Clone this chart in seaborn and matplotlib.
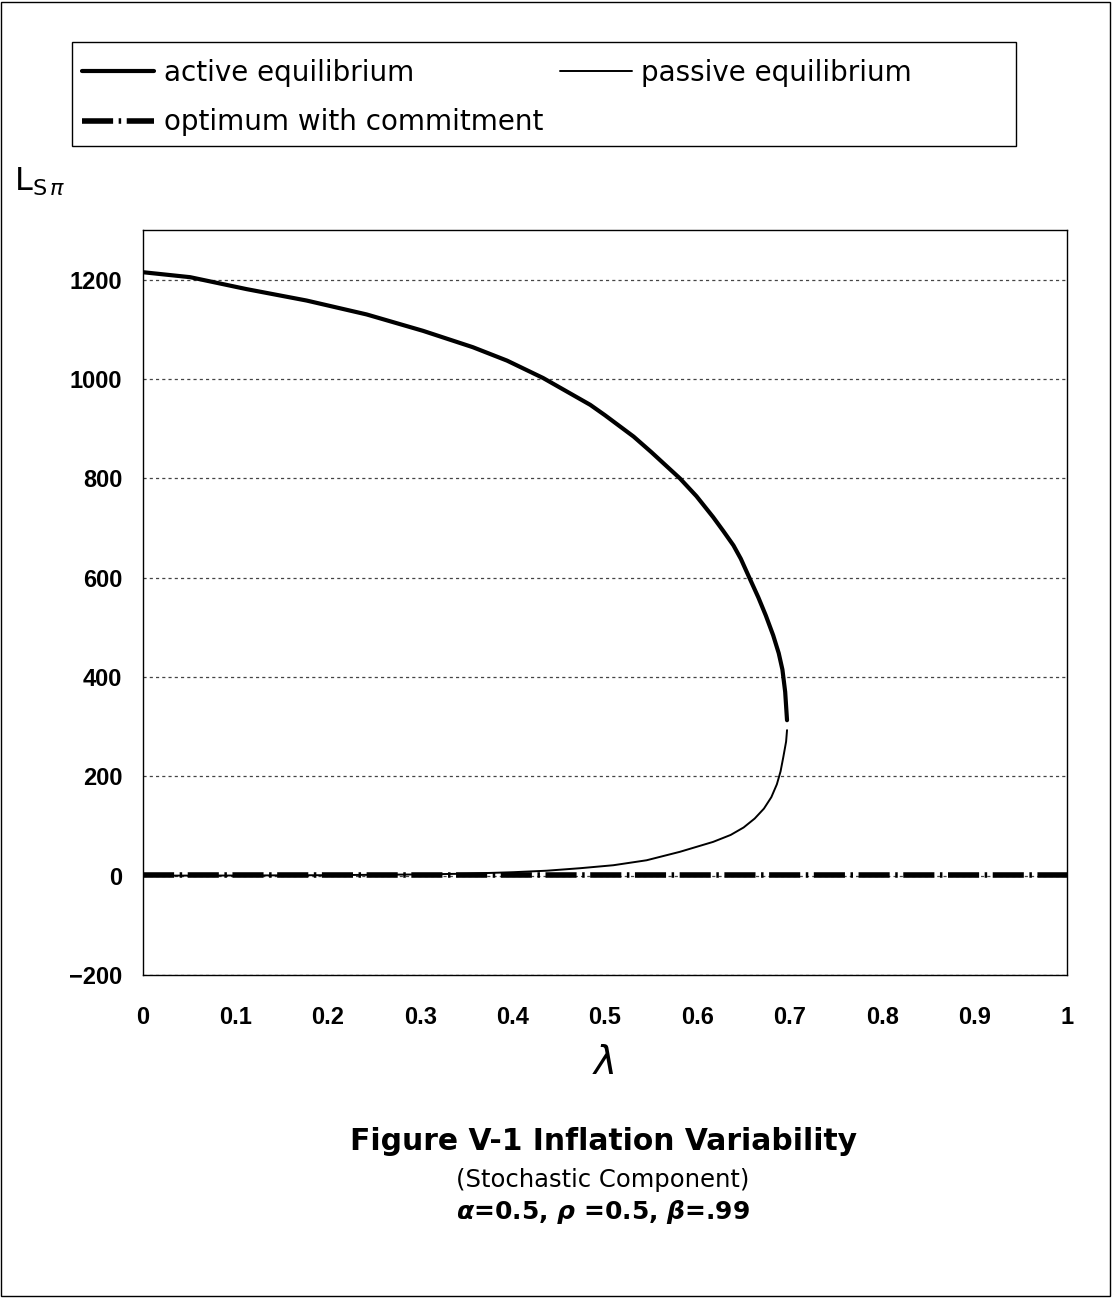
import matplotlib
matplotlib.use("Agg")
import matplotlib.pyplot as plt
import seaborn as sns
import pandas as pd
from matplotlib.patches import Rectangle

# ---- data ----
active_lambda = [0.0, 0.051, 0.112, 0.177, 0.242, 0.303, 0.357, 0.394, 0.433,
                 0.484, 0.5, 0.531, 0.55, 0.581, 0.599, 0.617, 0.628, 0.639,
                 0.647, 0.655, 0.666, 0.674, 0.682, 0.688, 0.692, 0.695, 0.697]
active_L = [1215, 1205, 1181, 1158, 1130, 1097, 1064, 1037, 1002,
            948, 927, 884, 853, 800, 764, 722, 694, 665,
            638, 605, 560, 524, 484, 448, 415, 370, 313]

passive_lambda = [0.0, 0.1, 0.2, 0.3, 0.35, 0.401, 0.437, 0.473, 0.509, 0.545,
                  0.581, 0.617, 0.636, 0.650, 0.662, 0.672, 0.680, 0.686,
                  0.690, 0.693, 0.696, 0.697]
passive_L = [0, 0.3, 1, 2.5, 4, 7, 10, 15, 21, 31,
             48, 68, 82, 97, 115, 135, 158, 184,
             210, 239, 270, 293]

commit_lambda = [0.0, 1.0]
commit_L = [2, 2]

x_ticks = [0, 0.1, 0.2, 0.3, 0.4, 0.5, 0.6, 0.7, 0.8, 0.9, 1]
x_tick_labels = ["0", "0.1", "0.2", "0.3", "0.4", "0.5", "0.6", "0.7", "0.8", "0.9", "1"]
y_ticks = [-200, 0, 200, 400, 600, 800, 1000, 1200]

labels = ["active equilibrium", "passive equilibrium", "optimum with commitment"]
title = "Figure V-1 Inflation Variability"
subtitle = "(Stochastic Component)"
params = r"$\mathbfit{\alpha}$=0.5, $\mathbfit{\rho}$ =0.5, $\mathbfit{\beta}$=.99"

# ---- style ----
sns.set_style("white")
plt.rcParams["font.family"] = ["DejaVu Sans"]
plt.rcParams["text.color"] = "black"
plt.rcParams["axes.labelcolor"] = "black"
plt.rcParams["xtick.color"] = "black"
plt.rcParams["ytick.color"] = "black"
plt.rcParams["mathtext.fontset"] = "custom"
plt.rcParams["mathtext.it"] = "DejaVu Sans:italic"
plt.rcParams["mathtext.bfit"] = "DejaVu Sans:italic:bold"
plt.rcParams["mathtext.rm"] = "DejaVu Sans"

fig = plt.figure(figsize=(11.12, 12.98), dpi=100)
ax = fig.add_axes([143 / 1112, 1 - 975 / 1298, (1067 - 143) / 1112, (975 - 230) / 1298])

df_a = pd.DataFrame({"lam": active_lambda, "L": active_L})
df_p = pd.DataFrame({"lam": passive_lambda, "L": passive_L})
df_c = pd.DataFrame({"lam": commit_lambda, "L": commit_L})

sns.lineplot(data=df_a, x="lam", y="L", ax=ax, color="black", linewidth=3.0,
             sort=False, estimator=None, label=labels[0])
sns.lineplot(data=df_p, x="lam", y="L", ax=ax, color="black", linewidth=1.4,
             sort=False, estimator=None, label=labels[1])
sns.lineplot(data=df_c, x="lam", y="L", ax=ax, color="black", linewidth=4.0,
             sort=False, estimator=None, label=labels[2])
ax.lines[2].set_dashes([5.6, 1.0, 0.45, 1.0])
ax.lines[2].set_dash_capstyle("butt")

ax.set_xlim(0, 1)
ax.set_ylim(-200, 1300)
ax.set_xticks(x_ticks)
ax.set_xticklabels(x_tick_labels)
ax.set_yticks(y_ticks)
for lab in ax.get_xticklabels() + ax.get_yticklabels():
    lab.set_fontfamily("Liberation Sans")
    lab.set_fontweight("bold")
    lab.set_fontsize(17)
    lab.set_color("black")
ax.tick_params(axis="x", direction="in", length=8, width=1, color="black", pad=22)
ax.tick_params(axis="y", length=0, pad=15)
ax.set_xlabel("")
ax.set_ylabel("")
for s in ax.spines.values():
    s.set_color("black")
    s.set_linewidth(1.0)
ax.yaxis.grid(True, linestyle=(0, (2.5, 2.5)), color="#444444", linewidth=0.9)
ax.xaxis.grid(False)

# legend (figure-level, two columns) with a separate box
handles, hl = ax.get_legend_handles_labels()
ax.get_legend().remove()
order = [0, 2, 1]
leg = fig.legend([handles[i] for i in order], [hl[i] for i in order],
                 loc="upper left", bbox_to_anchor=(76 / 1112, 1 - 53 / 1298),
                 ncol=2, frameon=False, fontsize=20, handlelength=2.6,
                 handletextpad=0.35, columnspacing=0.6, labelspacing=0.78,
                 borderpad=0.2, borderaxespad=0)
for t in leg.get_texts():
    t.set_color("black")
fig.patches.append(Rectangle((72 / 1112, 1 - 146 / 1298), (1016 - 72) / 1112, 104 / 1298,
                             transform=fig.transFigure, fill=False,
                             edgecolor="black", linewidth=1.0))

# axis labels
fig.text(14 / 1112, 1 - 182 / 1298, r"L$_{\mathrm{S}\,\pi}$", fontsize=23,
         ha="left", va="center")
fig.text(605 / 1112, 1 - 1063 / 1298, "λ", fontsize=28, style="italic",
         ha="center", va="center")

# titles
fig.text(603 / 1112, 1 - 1142 / 1298, title, fontsize=21.4, fontweight="bold",
         ha="center", va="center")
fig.text(603 / 1112, 1 - 1180 / 1298, subtitle, fontsize=17.5,
         ha="center", va="center")
fig.text(603 / 1112, 1 - 1212 / 1298, params, fontsize=18, fontweight="bold",
         ha="center", va="center")

# outer border
fig.patches.append(Rectangle((1 / 1112, 2 / 1298), 1109 / 1112, 1294 / 1298,
                             transform=fig.transFigure, fill=False,
                             edgecolor="black", linewidth=1.0))

fig.savefig("out.png", dpi=100)
